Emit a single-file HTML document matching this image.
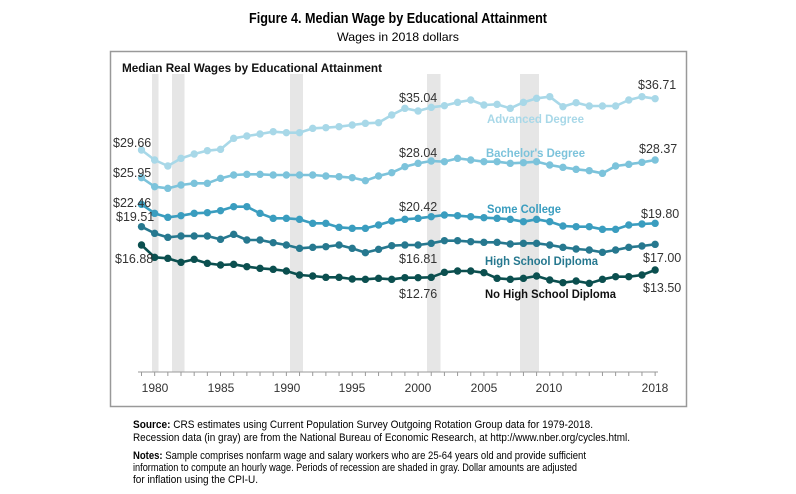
<!DOCTYPE html>
<html><head><meta charset="utf-8"><style>
body{margin:0;background:#fff;}
svg{display:block;font-family:"Liberation Sans",sans-serif;}
</style></head><body>
<svg id="s" width="796" height="494" viewBox="0 0 796 494" xmlns="http://www.w3.org/2000/svg">
<text x="398" y="23" text-anchor="middle" font-size="14.5" font-weight="bold" fill="#000" textLength="298" lengthAdjust="spacingAndGlyphs">Figure 4. Median Wage by Educational Attainment</text>
<text x="398" y="41" text-anchor="middle" font-size="12" fill="#000" textLength="122" lengthAdjust="spacingAndGlyphs">Wages in 2018 dollars</text>
<rect x="110.5" y="51.5" width="576" height="355" fill="#fff" stroke="#999" stroke-width="1.5"/>
<text x="122" y="72" font-size="12" font-weight="bold" fill="#111" textLength="260" lengthAdjust="spacingAndGlyphs">Median Real Wages by Educational Attainment</text>
<g fill="#e6e6e6">
<rect x="152" y="74" width="6.5" height="298"/>
<rect x="172" y="74" width="12.5" height="298"/>
<rect x="290" y="74" width="13" height="298"/>
<rect x="427" y="74" width="13.5" height="298"/>
<rect x="520" y="74" width="19" height="298"/>
</g>
<g id="ax" stroke="#999" stroke-width="1"></g>
<g font-size="12" fill="#333" text-anchor="middle">
<text x="155" y="392">1980</text><text x="221" y="392">1985</text><text x="287" y="392">1990</text><text x="352" y="392">1995</text><text x="418" y="392">2000</text><text x="484" y="392">2005</text><text x="549" y="392">2010</text><text x="655" y="392">2018</text>
</g>
<g id="series"></g>
<g font-size="12.5" fill="#333">
<text x="113" y="147">$29.66</text>
<text x="113" y="177">$25.95</text>
<text x="113" y="207">$22.46</text>
<text x="116" y="221">$19.51</text>
<text x="115" y="263">$16.88</text>
<text x="399" y="102">$35.04</text>
<text x="399" y="157">$28.04</text>
<text x="399" y="211">$20.42</text>
<text x="399" y="263">$16.81</text>
<text x="399" y="298">$12.76</text>
<text x="638" y="89">$36.71</text>
<text x="639" y="153">$28.37</text>
<text x="641" y="218">$19.80</text>
<text x="643" y="262">$17.00</text>
<text x="643" y="292">$13.50</text>
</g>
<g font-size="12" font-weight="bold">
<text x="487" y="123" fill="#a8d8e8" textLength="97" lengthAdjust="spacingAndGlyphs">Advanced Degree</text>
<text x="486" y="157" fill="#7cc3db" textLength="99" lengthAdjust="spacingAndGlyphs">Bachelor's Degree</text>
<text x="487" y="213" fill="#3a9dbf" textLength="74" lengthAdjust="spacingAndGlyphs">Some College</text>
<text x="485" y="265" fill="#26788f" textLength="113" lengthAdjust="spacingAndGlyphs">High School Diploma</text>
<text x="485" y="298" fill="#111" textLength="131" lengthAdjust="spacingAndGlyphs">No High School Diploma</text>
</g>
<g font-size="11" fill="#000">
<text x="133" y="428" textLength="460" lengthAdjust="spacingAndGlyphs"><tspan font-weight="bold">Source:</tspan> CRS estimates using Current Population Survey Outgoing Rotation Group data for 1979-2018.</text>
<text x="133" y="441" textLength="497" lengthAdjust="spacingAndGlyphs">Recession data (in gray) are from the National Bureau of Economic Research, at http://www.nber.org/cycles.html.</text>
<text x="133" y="459" textLength="453" lengthAdjust="spacingAndGlyphs"><tspan font-weight="bold">Notes:</tspan> Sample comprises nonfarm wage and salary workers who are 25-64 years old and provide sufficient</text>
<text x="133" y="471" textLength="444" lengthAdjust="spacingAndGlyphs">information to compute an hourly wage. Periods of recession are shaded in gray. Dollar amounts are adjusted</text>
<text x="133" y="483" textLength="125" lengthAdjust="spacingAndGlyphs">for inflation using the CPI-U.</text>
</g>
</svg>
<script>
var NS="http://www.w3.org/2000/svg";
function X(i){return 141.5+13.17*i;}
var ax=document.getElementById("ax");
function el(t,a,p){var e=document.createElementNS(NS,t);for(var k in a)e.setAttribute(k,a[k]);p.appendChild(e);return e;}
el("line",{x1:138,y1:372,x2:658,y2:372},ax);
for(var i=0;i<=39;i++){var x=X(i);el("line",{x1:x,y1:372,x2:x,y2:376},ax);}
function Z(a,off){return a.map(function(v){return off+v/3;});}
var adv=Z([300,330,348,325,312,302,298,265,258,252,245,248,248,235,233,230,225,220,218,195],50).concat(Z([175,183,172,167,157,150,165,163,175,157,145,140,170,158,168,168,168,150,140,146],50));
var bach=Z([383,410,415,405,400,400,385,375,373,373,375,375,375,375,378,380,383,392,378,368],50).concat(Z([350,340,333,335,325,330,335,335,340,338,335,345,352,358,362,370,348,343,337,330],50));
var sc=Z([463,490,502,497,490,488,482,470,470,490,505,505,508,520,520,532,535,535,525,513],50).concat(Z([508,505,500,495,497,500,503,505,508,515,508,515,528,530,530,538,538,525,522,520],50));
var hs=Z([-10,10,22,18,18,18,28,13,30,30,38,45,55,52,50,45,55,68,58,47],230).concat(Z([585,585,580,572,572,575,577,577,582,580,580,585,592,597,600,607,600,592,588,583],50));
var nhs=Z([45,82,85,97,88,100,105,103,110,115,118,123,135,138,142,142,147,148,145,148],230).concat(Z([683,683,682,667,663,663,668,685,688,685,678,690,698,693,700,688,680,680,675,660],50));
var S=[[adv,"#a8d8e8"],[bach,"#7cc3db"],[sc,"#3a9dbf"],[hs,"#26788f"],[nhs,"#0b4f4f"]];
var g=document.getElementById("series");
S.forEach(function(s){
 var pts=s[0].map(function(y,i){return X(i)+","+y;}).join(" ");
 el("polyline",{points:pts,fill:"none",stroke:s[1],"stroke-width":2.6,"stroke-linejoin":"round"},g);
 s[0].forEach(function(y,i){el("circle",{cx:X(i),cy:y,r:3.7,fill:s[1]},g);});
});
</script>
</body></html>
